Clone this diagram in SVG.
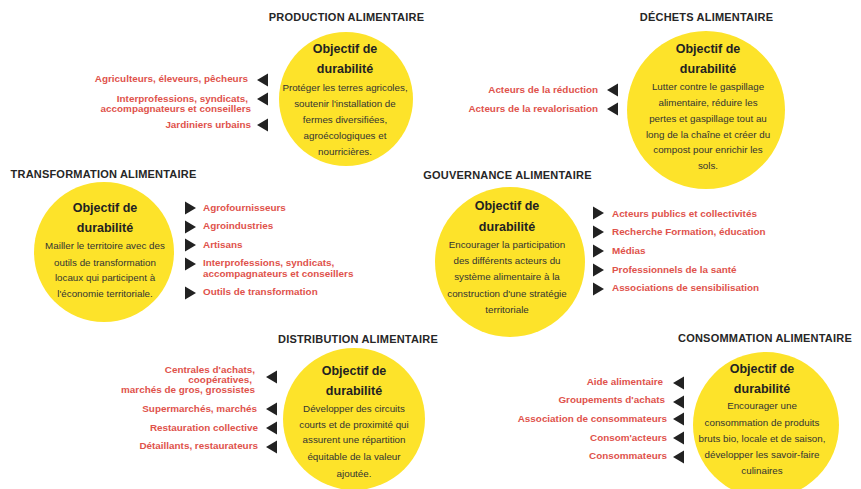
<svg xmlns="http://www.w3.org/2000/svg" xmlns:xlink="http://www.w3.org/1999/xlink" width="861" height="489" viewBox="0 0 861 489">
<style>
  .bg{fill:#ffffff}
  .blob{fill:#fde32a}
  .title{font-family:"Liberation Sans",Arial,sans-serif;font-weight:bold;font-size:11px;fill:#262626;text-anchor:middle;letter-spacing:0.2px}
  .obj{font-family:"Liberation Sans",Arial,sans-serif;font-weight:bold;font-size:12.5px;fill:#222;text-anchor:middle}
  .body{font-family:"Liberation Sans",Arial,sans-serif;font-size:9.8px;fill:#333;text-anchor:middle}
  .lab{font-family:"Liberation Sans",Arial,sans-serif;font-weight:bold;font-size:9.9px;fill:#e0524b}
  .r{text-anchor:end}
  .l{text-anchor:start}
  .tri{fill:#222}
</style>
<defs>
  <path id="triL" class="tri" d="M0,0 L11,-6.5 L11,6.5 Z"/>
  <path id="triR" class="tri" d="M0,-6.5 L11,0 L0,6.5 Z"/>
</defs>
<rect class="bg" x="0" y="0" width="861" height="489"/>

<g id="production">
  <text class="title" x="346.5" y="21">PRODUCTION ALIMENTAIRE</text>
  <circle class="blob" cx="346" cy="99" r="67"/>
  <text class="obj" x="345" y="53">Objectif de</text>
  <text class="obj" x="345" y="73">durabilité</text>
  <text class="body" x="345" y="91">Protéger les terres agricoles,</text>
  <text class="body" x="345" y="107">soutenir l'installation de</text>
  <text class="body" x="345" y="123">fermes diversifiées,</text>
  <text class="body" x="345" y="139">agroécologiques et</text>
  <text class="body" x="345" y="155">nourricières.</text>
  <text class="lab r" x="248" y="82">Agriculteurs, éleveurs, pêcheurs</text>
  <text class="lab r" x="248" y="102">Interprofessions, syndicats,</text>
  <text class="lab r" x="251" y="112">accompagnateurs et conseillers</text>
  <text class="lab r" x="251" y="128">Jardiniers urbains</text>
  <use xlink:href="#triL" x="257" y="80"/>
  <use xlink:href="#triL" x="257" y="99"/>
  <use xlink:href="#triL" x="257" y="125"/>
</g>

<g id="dechets">
  <text class="title" x="706.5" y="21">DÉCHETS ALIMENTAIRE</text>
  <circle class="blob" cx="706" cy="110" r="79"/>
  <text class="obj" x="708" y="53">Objectif de</text>
  <text class="obj" x="708" y="73">durabilité</text>
  <text class="body" x="708" y="90">Lutter contre le gaspillage</text>
  <text class="body" x="708" y="106">alimentaire, réduire les</text>
  <text class="body" x="708" y="122">pertes et gaspillage tout au</text>
  <text class="body" x="708" y="138">long de la chaîne et créer du</text>
  <text class="body" x="708" y="153">compost pour enrichir les</text>
  <text class="body" x="708" y="169">sols.</text>
  <text class="lab r" x="598" y="93">Acteurs de la réduction</text>
  <text class="lab r" x="598" y="112">Acteurs de la revalorisation</text>
  <use xlink:href="#triL" x="607" y="90"/>
  <use xlink:href="#triL" x="607" y="109"/>
</g>

<g id="transformation">
  <text class="title" x="103.5" y="178">TRANSFORMATION ALIMENTAIRE</text>
  <circle class="blob" cx="104" cy="252" r="70"/>
  <text class="obj" x="105" y="212">Objectif de</text>
  <text class="obj" x="105" y="232">durabilité</text>
  <text class="body" x="105" y="249">Mailler le territoire avec des</text>
  <text class="body" x="105" y="266">outils de transformation</text>
  <text class="body" x="105" y="281">locaux qui participent à</text>
  <text class="body" x="105" y="297">l'économie territoriale.</text>
  <use xlink:href="#triR" x="185" y="208"/>
  <use xlink:href="#triR" x="185" y="227"/>
  <use xlink:href="#triR" x="185" y="245"/>
  <use xlink:href="#triR" x="185" y="264"/>
  <use xlink:href="#triR" x="185" y="293"/>
  <text class="lab l" x="203" y="211">Agrofournisseurs</text>
  <text class="lab l" x="203" y="229">Agroindustries</text>
  <text class="lab l" x="203" y="248">Artisans</text>
  <text class="lab l" x="203" y="266">Interprofessions, syndicats,</text>
  <text class="lab l" x="203" y="277">accompagnateurs et conseillers</text>
  <text class="lab l" x="203" y="295">Outils de transformation</text>
</g>

<g id="gouvernance">
  <text class="title" x="507.5" y="179">GOUVERNANCE ALIMENTAIRE</text>
  <circle class="blob" cx="510" cy="262" r="75"/>
  <text class="obj" x="507" y="210">Objectif de</text>
  <text class="obj" x="507" y="231">durabilité</text>
  <text class="body" x="507" y="248">Encourager la participation</text>
  <text class="body" x="507" y="264">des différents acteurs du</text>
  <text class="body" x="507" y="280">système alimentaire à la</text>
  <text class="body" x="507" y="297">construction d'une stratégie</text>
  <text class="body" x="507" y="313">territoriale</text>
  <use xlink:href="#triR" x="593" y="213"/>
  <use xlink:href="#triR" x="593" y="232"/>
  <use xlink:href="#triR" x="593" y="251"/>
  <use xlink:href="#triR" x="593" y="270"/>
  <use xlink:href="#triR" x="593" y="289"/>
  <text class="lab l" x="612" y="217">Acteurs publics et collectivités</text>
  <text class="lab l" x="612" y="235">Recherche Formation, éducation</text>
  <text class="lab l" x="612" y="254">Médias</text>
  <text class="lab l" x="612" y="273">Professionnels de la santé</text>
  <text class="lab l" x="612" y="291">Associations de sensibilisation</text>
</g>

<g id="distribution">
  <text class="title" x="358" y="343">DISTRIBUTION ALIMENTAIRE</text>
  <circle class="blob" cx="354" cy="419" r="71"/>
  <text class="obj" x="354" y="375">Objectif de</text>
  <text class="obj" x="354" y="395">durabilité</text>
  <text class="body" x="354" y="412">Développer des circuits</text>
  <text class="body" x="354" y="428">courts et de proximité qui</text>
  <text class="body" x="354" y="443">assurent une répartition</text>
  <text class="body" x="354" y="460">équitable de la valeur</text>
  <text class="body" x="354" y="477">ajoutée.</text>
  <text class="lab r" x="255" y="373">Centrales d'achats,</text>
  <text class="lab r" x="252" y="383">coopératives,</text>
  <text class="lab r" x="255" y="393">marchés de gros, grossistes</text>
  <text class="lab r" x="257" y="412">Supermarchés, marchés</text>
  <text class="lab r" x="258" y="431">Restauration collective</text>
  <text class="lab r" x="258" y="449">Détaillants, restaurateurs</text>
  <use xlink:href="#triL" x="266" y="377"/>
  <use xlink:href="#triL" x="266" y="409"/>
  <use xlink:href="#triL" x="266" y="428"/>
  <use xlink:href="#triL" x="266" y="447"/>
</g>

<g id="consommation">
  <text class="title" x="765" y="342">CONSOMMATION ALIMENTAIRE</text>
  <circle class="blob" cx="766" cy="425" r="73"/>
  <text class="obj" x="762" y="373">Objectif de</text>
  <text class="obj" x="762" y="393">durabilité</text>
  <text class="body" x="762" y="409">Encourager une</text>
  <text class="body" x="762" y="426">consommation de produits</text>
  <text class="body" x="762" y="442">bruts bio, locale et de saison,</text>
  <text class="body" x="762" y="458">développer les savoir-faire</text>
  <text class="body" x="762" y="474">culinaires</text>
  <text class="lab r" x="663" y="385">Aide alimentaire</text>
  <text class="lab r" x="665" y="403">Groupements d'achats</text>
  <text class="lab r" x="667" y="422">Association de consommateurs</text>
  <text class="lab r" x="667" y="441">Consom'acteurs</text>
  <text class="lab r" x="667" y="459">Consommateurs</text>
  <use xlink:href="#triL" x="673" y="383"/>
  <use xlink:href="#triL" x="673" y="402"/>
  <use xlink:href="#triL" x="673" y="419"/>
  <use xlink:href="#triL" x="673" y="438"/>
  <use xlink:href="#triL" x="673" y="457"/>
</g>

<g id="connectors"></g>
</svg>
